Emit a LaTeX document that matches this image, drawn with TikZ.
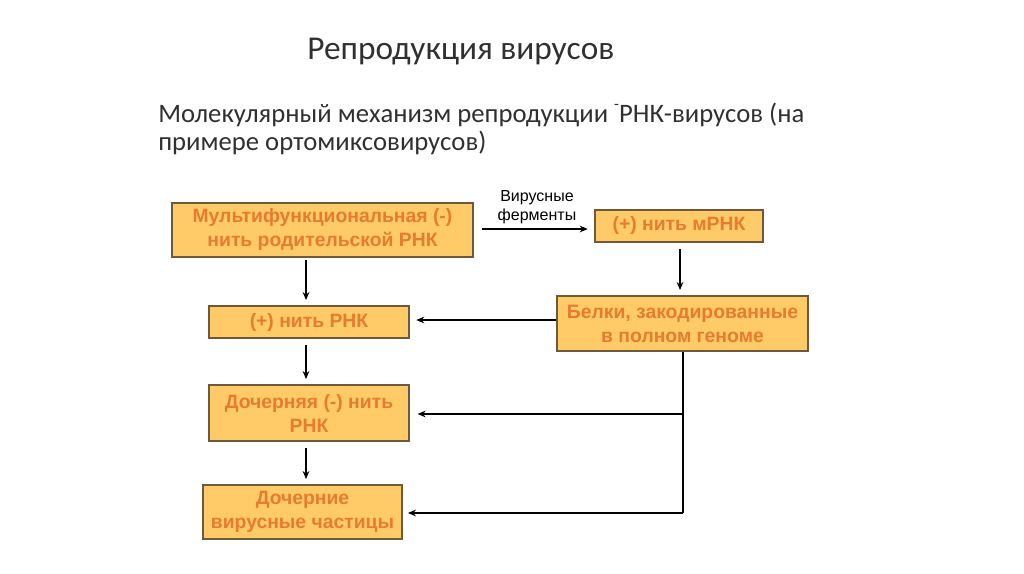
\documentclass[tikz,border=0pt]{standalone}
\usepackage{fontspec}
\setmainfont{Liberation Sans}
\newfontfamily\calib{Carlito}
\usetikzlibrary{arrows.meta}
\definecolor{boxfill}{HTML}{FFCA68}
\definecolor{boxtext}{HTML}{E67C30}
\definecolor{boxline}{HTML}{6E5A3A}
\definecolor{titlegray}{HTML}{303030}
\tikzset{
  bx/.style={draw=boxline, line width=0.9pt, fill=boxfill, text=boxtext,
    font=\fontsize{14.5}{18}\selectfont\bfseries, align=center, inner sep=0pt},
  arr/.style={line width=1.3pt, -{Stealth[length=6pt,width=5pt]}},
  ln/.style={line width=1.3pt}
}
\begin{document}
\begin{tikzpicture}[x=0.75pt,y=-0.75pt]
\useasboundingbox (0,0) rectangle (1024,574);
\node[font=\calib\fontsize{25}{30}\selectfont, text=titlegray, anchor=base west, inner sep=0pt] (title) at (307,60) {Репродукция вирусов};
\node[font=\calib\fontsize{20}{21}\selectfont, text=titlegray, anchor=base west, inner sep=0pt] (sub) at (158,123) {Молекулярный механизм репродукции \raisebox{0.5em}{\fontsize{12}{12}\selectfont -}РНК-вирусов (на};
\node[font=\calib\fontsize{20}{21}\selectfont, text=titlegray, anchor=base west, inner sep=0pt] (sub2) at (158,151) {примере ортомиксовирусов)};

\node[bx, minimum width=301*0.75pt, minimum height=54*0.75pt] (b1) at (322.5,230) {Мультифункциональная (-)\\нить родительской РНК};
\node[bx, minimum width=168*0.75pt, minimum height=32*0.75pt] (b2) at (679,226) {(+) нить мРНК};
\node[bx, minimum width=200*0.75pt, minimum height=32*0.75pt] (b3) at (309,322) {(+) нить РНК};
\node[bx, minimum width=251*0.75pt, minimum height=55*0.75pt] (b4) at (682.5,323.5) {Белки, закодированные\\в полном геноме};
\node[bx, minimum width=200*0.75pt, minimum height=56*0.75pt] (b5) at (309,413) {Дочерняя (-) нить\\РНК};
\node[bx, minimum width=199*0.75pt, minimum height=54*0.75pt] (b6) at (302.5,512) {Дочерние\\вирусные частицы};

\node[font=\fontsize{12}{14.2}\selectfont, align=center, inner sep=0pt] (lab) at (537,207) {Вирусные\\ферменты};

\coordinate (j1) at (683,414);
\coordinate (j2) at (683,513);

\draw[arr] (b1.east |- 0,229) ++(8,0) coordinate (s1) -- ([xshift=-5pt]b2.west |- s1);
\draw[arr] ([yshift=-2pt]b1.south -| 306,0) -- ([yshift=4pt]b3.north -| 306,0);
\draw[arr] ([yshift=-5pt]b2.south -| 680,0) -- ([yshift=4pt]b4.north -| 680,0);
\draw[arr] (b4.west |- 0,320) -- ([xshift=5pt]b3.east |- 0,320);
\draw[arr] ([yshift=-5pt]b3.south -| 306,0) -- ([yshift=4pt]b5.north -| 306,0);
\draw[arr] ([yshift=-5pt]b5.south -| 306,0) -- ([yshift=4pt]b6.north -| 306,0);
\draw[ln] (b4.south -| j1) -- (j2);
\draw[arr] (j1) -- ([xshift=6pt]b5.east |- j1);
\draw[arr] (j2) -- ([xshift=4pt]b6.east |- j2);
\end{tikzpicture}
\end{document}
